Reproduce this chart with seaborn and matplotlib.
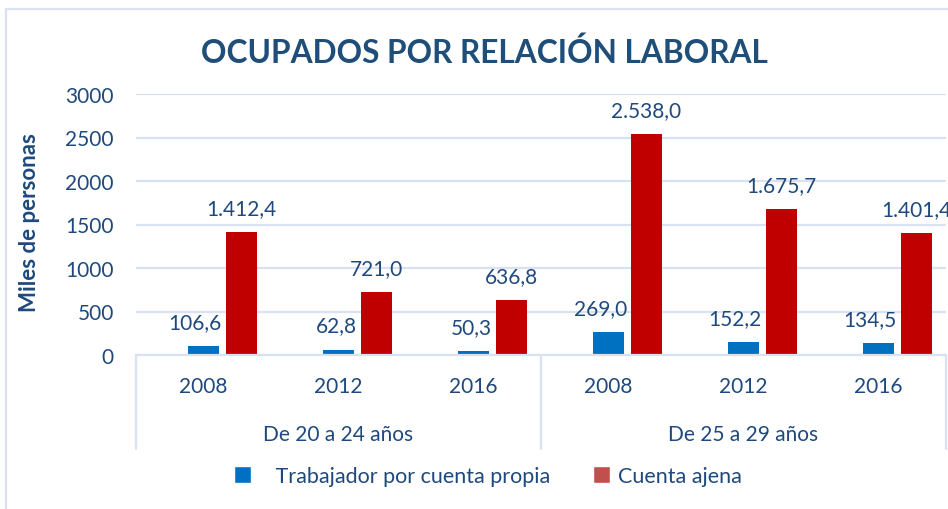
import matplotlib
matplotlib.use("Agg")
import matplotlib.pyplot as plt
import matplotlib.transforms as mtransforms
from matplotlib.patches import Patch, Rectangle
import pandas as pd
import seaborn as sns

# ---- data ----
years = ["2008", "2012", "2016", "2008", "2012", "2016"]
groups = ["De 20 a 24 años", "De 25 a 29 años"]
series = ["Trabajador por cuenta propia", "Cuenta ajena"]
propia = [106.6, 62.8, 50.3, 269.0, 152.2, 134.5]
ajena = [1412.4, 721.0, 636.8, 2538.0, 1675.7, 1401.4]
yticks = [0, 500, 1000, 1500, 2000, 2500, 3000]

BLUE = "#0070C0"
RED = "#C00000"
RED_LEG = "#C0504D"
TXT = "#1F497D"
TITLE = "#1F4E79"
GRID = "#D9E1F2"

sns.set_theme(style="white")
plt.rcParams["font.family"] = ["Lato", "DejaVu Sans"]

dummy = "_blank"
n = len(years)
df = pd.DataFrame({
    "pos": list(range(n)) * 3,
    "serie": [dummy] * n + [series[0]] * n + [series[1]] * n,
    "valor": [0.0] * n + propia + ajena,
})

fig = plt.figure(figsize=(9.48, 5.10), dpi=100)
ax = fig.add_axes([136 / 948, 1 - 356 / 510, 810 / 948, 261 / 510])

sns.barplot(data=df, x="pos", y="valor", hue="serie",
            hue_order=[dummy, series[0], series[1]],
            palette={dummy: "white", series[0]: BLUE, series[1]: RED},
            width=0.84, gap=0.18, saturation=1, linewidth=0,
            errorbar=None, legend=False, ax=ax)

ax.set_xlim(-0.5, n - 0.5)
ax.set_ylim(0, 3000)
ax.set_yticks(yticks)
ax.set_yticklabels([str(v) for v in yticks], color=TXT, fontsize=15)
ax.tick_params(axis="y", length=0, pad=16)
ax.set_xticks(range(n))
ax.set_xticklabels([])
ax.tick_params(axis="x", length=0)
ax.set_xlabel("")
ax.yaxis.grid(True, color=GRID, linewidth=1.6)
ax.set_axisbelow(True)
for s in ["top", "right", "left"]:
    ax.spines[s].set_visible(False)
ax.spines["bottom"].set_color(GRID)
ax.spines["bottom"].set_linewidth(1.6)

ax.set_ylabel("Miles de personas", color=TXT, fontsize=16, fontweight="bold")
ax.yaxis.set_label_coords((40 - 136) / 810, 0.511)

def fmt(v):
    s = f"{v:,.1f}"
    return s.replace(",", "X").replace(".", ",").replace("X", ".")

blue_bars = ax.containers[1]
red_bars = ax.containers[2]
for bb, rb, vb, vr in zip(blue_bars, red_bars, propia, ajena):
    rx = rb.get_x() + rb.get_width() / 2
    ax.annotate(fmt(vr), (rx, vr), xytext=(0, 24), textcoords="offset pixels",
                ha="center", va="center", color=TXT, fontsize=15)
    ax.annotate(fmt(vb), (rb.get_x(), vb), xytext=(-4, 24), textcoords="offset pixels",
                ha="right", va="center", color=TXT, fontsize=15)

# multi-level category axis
tr = mtransforms.blended_transform_factory(ax.transData, ax.transAxes)
for i, y in enumerate(years):
    ax.text(i, -0.119, y, transform=tr, ha="center", va="center", color=TXT, fontsize=15)
for g, name in enumerate(groups):
    ax.text(g * 3 + 1, -0.303, name, transform=tr, ha="center", va="center", color=TXT, fontsize=15)
for xv in [-0.5, 2.5, 5.5]:
    ax.plot([xv, xv], [0, -0.36], transform=tr, color=GRID, linewidth=1.6, clip_on=False)

fig.text(484 / 948, 1 - 53 / 510, "OCUPADOS POR RELACIÓN LABORAL", ha="center", va="center",
         color=TITLE, fontsize=22.8, fontweight="bold")

fig.add_artist(Rectangle((6 / 948, -0.05), 1.2, 1 - 10 / 510 + 0.05, fill=False,
                         edgecolor=GRID, linewidth=1.6, transform=fig.transFigure))

handles = [Patch(facecolor=BLUE, label="   " + series[0]),
           Patch(facecolor=RED_LEG, label=series[1])]
leg = fig.legend(handles=handles, loc="center", bbox_to_anchor=(488 / 948, 1 - 477 / 510),
                 ncol=2, frameon=False, handlelength=0.8, handleheight=0.8,
                 handletextpad=0.35, columnspacing=2.0, fontsize=15.5)
for t in leg.get_texts():
    t.set_color(TXT)

fig.savefig("out.png", dpi=100)
